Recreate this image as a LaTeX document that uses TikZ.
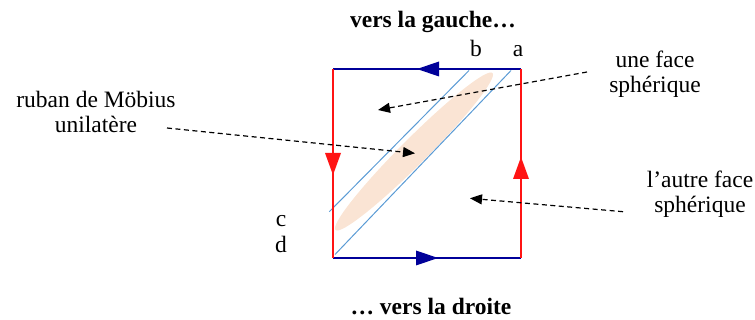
\documentclass[tikz,border=0pt]{standalone}
\usepackage{fontspec}
\setmainfont{Liberation Serif}
\usetikzlibrary{arrows.meta}
\definecolor{navyb}{RGB}{0,0,153}
\definecolor{redl}{RGB}{255,20,20}
\definecolor{lblue}{RGB}{91,155,213}
\definecolor{peach}{RGB}{250,228,212}
\begin{document}
\begin{tikzpicture}[x=1pt,y=-1pt,
  lbl/.style={font=\fontsize{23.5}{25}\selectfont, inner sep=0pt, align=center},
  ttl/.style={font=\fontsize{23.5}{25}\selectfont\bfseries, inner sep=0pt, anchor=base},
  letter/.style={font=\fontsize{23.5}{25}\selectfont, inner sep=0pt, anchor=base},
  edgeR/.style={draw=redl, line width=1.5pt},
  edgeB/.style={draw=navyb, line width=1.5pt},
  tipR/.style={fill=redl},
  tipB/.style={fill=navyb},
  diag/.style={draw=lblue, line width=1pt},
  pointer/.style={draw=black, line width=1.2pt, dash pattern=on 5pt off 3.5pt, -{Triangle[length=12pt,width=10pt]}}
]
\useasboundingbox (0,0) rectangle (755,320);

% square corners
\coordinate (TL) at (333,69);
\coordinate (TR) at (521,69);
\coordinate (BL) at (333,258);
\coordinate (BR) at (521,258);

% ribbon
\fill[peach, rotate around={45:(414,151.5)}] (414,151.5) ellipse [x radius=111pt, y radius=13pt];

% diagonal lines
\coordinate (d1a) at (329.3,211.7);
\coordinate (d1b) at (469,70.5);
\coordinate (d2a) at (335,254.5);
\coordinate (d2b) at (511,70.5);
\draw[diag] (d1a) -- (d1b);
\draw[diag] (d2a) -- (d2b);

% square edges
\draw[edgeB] (TL) -- (TR);
\draw[edgeB] (BL) -- (BR);
\draw[edgeR] (TL) -- (BL);
\draw[edgeR] (TR) -- (BR);

% edge arrowheads
\fill[tipB] (417,69) -- (439,61.5) -- (439,76.5) -- cycle;
\fill[tipB] (438,258) -- (416,250.5) -- (416,265.5) -- cycle;
\fill[tipR] (333,175) -- (325,153) -- (341,153) -- cycle;
\fill[tipR] (521,157) -- (513,179) -- (529,179) -- cycle;

% labels
\node[ttl] (gauche) at (433,28) {vers la gauche…};
\node[ttl] (droite) at (431,315) {… vers la droite};
\node[letter] (lb) at (476,57) {b};
\node[letter] (la) at (518,57) {a};
\node[letter] (lc) at (281,227) {c};
\node[letter] (ld) at (281,253) {d};
\node[lbl] (ruban) at (96,112) {ruban de Möbius\\unilatère};
\node[lbl] (face1) at (655,74) {une face\\sphérique};
\node[lbl] (face2) at (700,194.5) {l’autre face\\sphérique};

% pointer arrows
\coordinate (p1s) at (587,72);
\coordinate (p1e) at (378,110);
\coordinate (p2s) at (167,128);
\coordinate (p2e) at (415,153.3);
\coordinate (p3s) at (623,211.7);
\coordinate (p3e) at (470,198.3);
\draw[pointer] (p1s) -- (p1e);
\draw[pointer] (p2s) -- (p2e);
\draw[pointer] (p3s) -- (p3e);
\end{tikzpicture}
\end{document}
